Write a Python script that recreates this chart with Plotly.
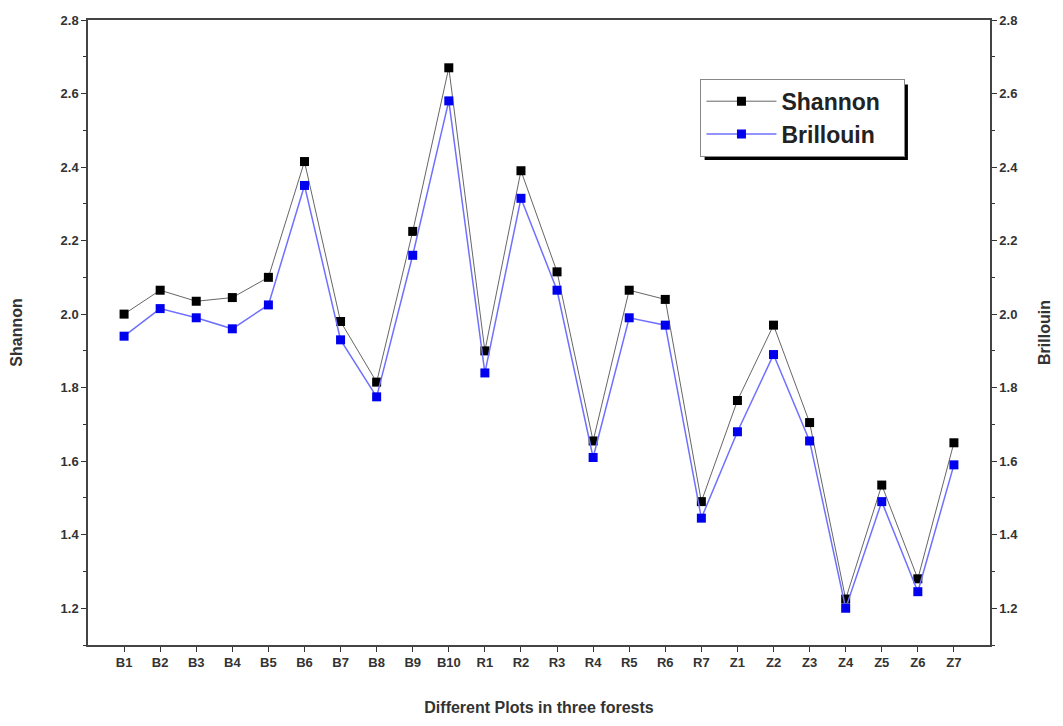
import plotly.graph_objects as go

plots = ["B1", "B2", "B3", "B4", "B5", "B6", "B7", "B8", "B9", "B10",
         "R1", "R2", "R3", "R4", "R5", "R6", "R7",
         "Z1", "Z2", "Z3", "Z4", "Z5", "Z6", "Z7"]
shannon = [2.00, 2.065, 2.035, 2.045, 2.10, 2.415, 1.98, 1.815, 2.225, 2.67,
           1.90, 2.39, 2.115, 1.655, 2.065, 2.04, 1.49,
           1.765, 1.97, 1.705, 1.225, 1.535, 1.28, 1.65]
brillouin = [1.94, 2.015, 1.99, 1.96, 2.025, 2.35, 1.93, 1.775, 2.16, 2.58,
             1.84, 2.315, 2.065, 1.61, 1.99, 1.97, 1.445,
             1.68, 1.89, 1.655, 1.20, 1.49, 1.245, 1.59]
y_ticks = [1.2, 1.4, 1.6, 1.8, 2.0, 2.2, 2.4, 2.6, 2.8]

FONT = "Liberation Sans"
idx = list(range(len(plots)))

fig = go.Figure()
fig.add_trace(go.Scatter(
    x=idx, y=shannon, name="<b>Shannon</b>&nbsp;&nbsp;&nbsp;", mode="lines+markers",
    line=dict(color="#666666", width=1),
    marker=dict(symbol="square", size=9, color="black"),
))
fig.add_trace(go.Scatter(
    x=idx, y=brillouin, name="<b>Brillouin</b>", mode="lines+markers",
    line=dict(color="#7070ff", width=1.5),
    marker=dict(symbol="square", size=9, color="#0000ee"),
    yaxis="y2",
))

axis_common = dict(
    range=[1.1, 2.8], tickvals=y_ticks, ticktext=[f"<b>{v:.1f}</b>" for v in y_ticks],
    ticks="outside", ticklen=5, tickwidth=1.2, tickcolor="#333",
    showline=True, linecolor="#444", linewidth=1.5, showgrid=False, zeroline=False,
    tickfont=dict(family=FONT, size=13, color="#333"),
    minor=dict(dtick=0.1, tick0=1.1, ticks="outside", ticklen=3, tickcolor="#333", showgrid=False),
)

fig.update_layout(
    width=1063, height=726,
    margin=dict(l=88, r=71, t=20, b=76),
    paper_bgcolor="white", plot_bgcolor="white",
    font=dict(family=FONT, color="#333"),
    showlegend=True,
    legend=dict(
        x=0.679, y=0.906, xanchor="left", yanchor="top",
        bgcolor="white", bordercolor="#888", borderwidth=1,
        font=dict(family=FONT, size=23, color="#222"),
        tracegroupgap=0, itemwidth=70,
    ),
    xaxis=dict(
        range=[-1, 24], tickvals=idx, ticktext=[f"<b>{p}</b>" for p in plots],
        ticks="outside", ticklen=5, tickwidth=1.2, tickcolor="#333",
        showline=True, linecolor="#444", linewidth=1.5, mirror=True,
        showgrid=False, zeroline=False,
        tickfont=dict(family=FONT, size=13, color="#333"),
        title=dict(text="<b>Different Plots in three forests</b>",
                   font=dict(family=FONT, size=16, color="#333"), standoff=32),
    ),
    yaxis=dict(
        side="left",
        title=dict(text="<b>Shannon</b>", font=dict(family=FONT, size=16, color="#333"), standoff=34),
        **axis_common,
    ),
    yaxis2=dict(
        side="right", overlaying="y",
        title=dict(text="<b>Brillouin</b>", font=dict(family=FONT, size=16, color="#333"), standoff=22),
        **axis_common,
    ),
    shapes=[dict(
        type="rect", xref="paper", yref="paper",
        x0=0.6836, x1=0.909, y0=0.776, y1=0.897,
        fillcolor="black", line=dict(width=0), layer="above",
    )],
)

fig.write_html("out.html")
